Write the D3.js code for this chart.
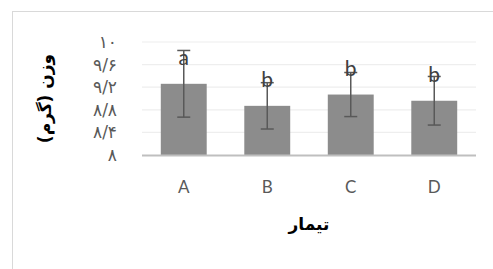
<!DOCTYPE html>
<html>
<head>
<meta charset="utf-8">
<script src="https://cdn.jsdelivr.net/npm/d3@7"></script>
<style>
  body { margin: 0; background: #fff; }
  svg { display: block; font-family: "DejaVu Sans", Arial, sans-serif; }
</style>
</head>
<body>
<svg id="chart" width="493" height="269"></svg>
<script>
const treatments = ["A", "B", "C", "D"];
const weights = [9.26, 8.87, 9.07, 8.96];
const errors = [0.59, 0.41, 0.39, 0.43];
const letters = ["a", "b", "b", "b"];
const yTicks = [8, 8.4, 8.8, 9.2, 9.6, 10];
const yTickLabels = ["۸", "۸/۴", "۸/۸", "۹/۲", "۹/۶", "۱۰"];
const yTitle = "وزن (گرم)";
const xTitle = "تیمار";

const svg = d3.select("#chart");

// chart area border (clipped on right/bottom like the original)
svg.append("rect")
  .attr("x", 12.5).attr("y", 11.5)
  .attr("width", 500).attr("height", 300)
  .attr("fill", "#fff")
  .attr("stroke", "#d9d9d9")
  .attr("stroke-width", 1);

const plotLeft = 142, plotRight = 476, plotTop = 42, plotBottom = 155;

const x = d3.scaleBand()
  .domain(treatments)
  .range([plotLeft, plotRight])
  .paddingInner(0.45)
  .paddingOuter(0.225);

const y = d3.scaleLinear()
  .domain([8, 10])
  .range([plotBottom, plotTop]);

// gridlines
svg.append("g")
  .selectAll("line")
  .data(yTicks.filter(t => t > 8))
  .join("line")
  .attr("x1", plotLeft).attr("x2", plotRight)
  .attr("y1", d => y(d)).attr("y2", d => y(d))
  .attr("stroke", "#eeeeee")
  .attr("stroke-width", 1.2);

// y tick labels
svg.append("g")
  .selectAll("text")
  .data(yTicks)
  .join("text")
  .attr("x", 117)
  .attr("y", d => y(d))
  .attr("dy", "0.35em")
  .attr("text-anchor", "end")
  .attr("font-size", 17)
  .attr("fill", "#595959")
  .text((d, i) => yTickLabels[i]);

// bars
svg.append("g")
  .selectAll("rect")
  .data(weights)
  .join("rect")
  .attr("x", (d, i) => x(treatments[i]))
  .attr("y", d => y(d))
  .attr("width", x.bandwidth())
  .attr("height", d => y(8) - y(d))
  .attr("fill", "#8c8c8c");

// baseline
svg.append("line")
  .attr("x1", plotLeft).attr("x2", plotRight)
  .attr("y1", y(8) + 0.5).attr("y2", y(8) + 0.5)
  .attr("stroke", "#bfbfbf")
  .attr("stroke-width", 2.2);

// error bars
const eb = svg.append("g")
  .attr("stroke", "#595959")
  .attr("stroke-width", 1.5);

weights.forEach((w, i) => {
  const cx = x(treatments[i]) + x.bandwidth() / 2;
  const hi = y(w + errors[i]);
  const lo = y(w - errors[i]);
  eb.append("line").attr("x1", cx).attr("x2", cx).attr("y1", hi).attr("y2", lo);
  eb.append("line").attr("x1", cx - 6.5).attr("x2", cx + 6.5).attr("y1", hi).attr("y2", hi);
  eb.append("line").attr("x1", cx - 6.5).attr("x2", cx + 6.5).attr("y1", lo).attr("y2", lo);
});

// significance letters
svg.append("g")
  .selectAll("text")
  .data(weights)
  .join("text")
  .attr("x", (d, i) => x(treatments[i]) + x.bandwidth() / 2)
  .attr("y", d => y(d) - 26)
  .attr("dy", "0.35em")
  .attr("text-anchor", "middle")
  .attr("font-family", "Lato, 'Open Sans', sans-serif")
  .attr("font-size", 21)
  .attr("fill", "#404040")
  .text((d, i) => letters[i]);

// x labels
svg.append("g")
  .selectAll("text")
  .data(treatments)
  .join("text")
  .attr("x", d => x(d) + x.bandwidth() / 2)
  .attr("y", 187)
  .attr("dy", "0.35em")
  .attr("text-anchor", "middle")
  .attr("font-family", "Lato, 'Open Sans', sans-serif")
  .attr("font-size", 17)
  .attr("fill", "#595959")
  .text(d => d);

// axis titles
svg.append("text")
  .attr("x", (plotLeft + plotRight) / 2)
  .attr("y", 224)
  .attr("dy", "0.35em")
  .attr("text-anchor", "middle")
  .attr("font-size", 17)
  .attr("font-weight", "bold")
  .attr("fill", "#000")
  .text(xTitle);

svg.append("text")
  .attr("transform", `translate(45,${(plotTop + plotBottom) / 2}) rotate(-90)`)
  .attr("dy", "0.35em")
  .attr("text-anchor", "middle")
  .attr("font-size", 17)
  .attr("font-weight", "bold")
  .attr("fill", "#000")
  .text(yTitle);
</script>
</body>
</html>
